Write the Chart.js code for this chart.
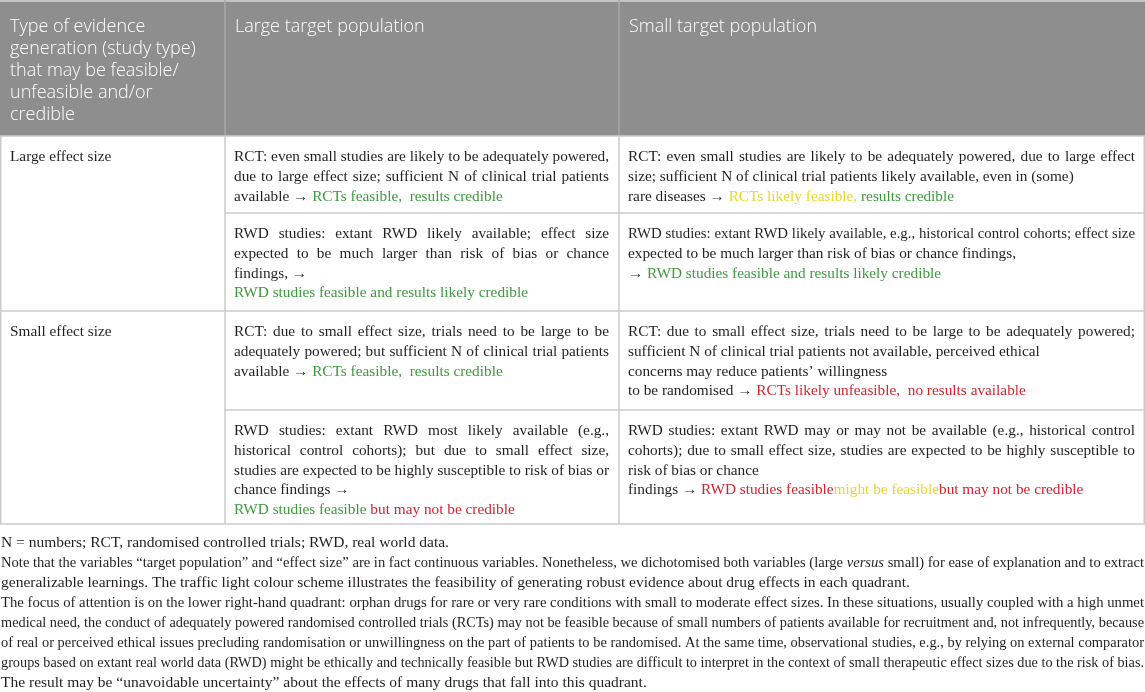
<!DOCTYPE html>
<html>
<head>
<meta charset="utf-8">
<script src="https://cdn.jsdelivr.net/npm/chart.js@4.4.1/dist/chart.umd.min.js"></script>
<style>
  html, body { margin: 0; padding: 0; background: #fff; }
  canvas { display: block; }
</style>
</head>
<body>
<canvas id="evidenceTable" width="1145" height="692"></canvas>
<script>
// Column headings
const headers = [
  ["Type of evidence", "generation (study type)", "that may be feasible/", "unfeasible and/or", "credible"],
  ["Large target population"],
  ["Small target population"],
];

// Row headings
const rowLabels = ["Large effect size", "Small effect size"];

// Cell text: each line is { t: [[text, colour, style]], j: justify }
// colour keys: k = body text, g = green, y = yellow, r = red
const largeEffectRct = [
  [
    { t: [["RCT: even small studies are likely to be adequately powered,"]], j: 1 },
    { t: [["due to large effect size; sufficient N of clinical trial patients"]], j: 1 },
    { t: [["available → "], ["RCTs feasible,  results credible", "g"]] },
  ],
  [
    { t: [["RCT: even small studies are likely to be adequately powered, due to large effect"]], j: 1 },
    { t: [["size; sufficient N of clinical trial patients likely available, even in (some)"]] },
    { t: [["rare diseases → "], ["RCTs likely feasible, ", "y"], ["results credible", "g"]] },
  ],
];
const largeEffectRwd = [
  [
    { t: [["RWD studies: extant RWD likely available; effect size"]], j: 1 },
    { t: [["expected to be much larger than risk of bias or chance"]], j: 1 },
    { t: [["findings, →"]] },
    { t: [["RWD studies feasible and results likely credible", "g"]] },
  ],
  [
    { t: [["RWD studies: extant RWD likely available, e.g., historical control cohorts; effect size"]], j: 1 },
    { t: [["expected to be much larger than risk of bias or chance findings,"]] },
    { t: [["→ "], ["RWD studies feasible and results likely credible", "g"]] },
  ],
];
const smallEffectRct = [
  [
    { t: [["RCT: due to small effect size, trials need to be large to be"]], j: 1 },
    { t: [["adequately powered; but sufficient N of clinical trial patients"]], j: 1 },
    { t: [["available → "], ["RCTs feasible,  results credible", "g"]] },
  ],
  [
    { t: [["RCT: due to small effect size, trials need to be large to be adequately powered;"]], j: 1 },
    { t: [["sufficient N of clinical trial patients not available, perceived ethical"]] },
    { t: [["concerns may reduce patients’ willingness"]] },
    { t: [["to be randomised → "], ["RCTs likely unfeasible,  no results available", "r"]] },
  ],
];
const smallEffectRwd = [
  [
    { t: [["RWD studies: extant RWD most likely available (e.g.,"]], j: 1 },
    { t: [["historical control cohorts); but due to small effect size,"]], j: 1 },
    { t: [["studies are expected to be highly susceptible to risk of bias or"]], j: 1 },
    { t: [["chance findings →"]] },
    { t: [["RWD studies feasible ", "g"], ["but may not be credible", "r"]] },
  ],
  [
    { t: [["RWD studies: extant RWD may or may not be available (e.g., historical control"]], j: 1 },
    { t: [["cohorts); due to small effect size, studies are expected to be highly susceptible to"]], j: 1 },
    { t: [["risk of bias or chance"]] },
    { t: [["findings → "], ["RWD studies feasible", "r"], ["might be feasible", "y"], ["but may not be credible", "r"]] },
  ],
];

// Footnotes below the table
const footnotes = [
  { t: [["N = numbers; RCT, randomised controlled trials; RWD, real world data."]] },
  { t: [["Note that the variables “target population” and “effect size” are in fact continuous variables. Nonetheless, we dichotomised both variables (large "], ["versus", "k", "i"], [" small) for ease of explanation and to extract"]], j: 1 },
  { t: [["generalizable learnings. The traffic light colour scheme illustrates the feasibility of generating robust evidence about drug effects in each quadrant."]] },
  { t: [["The focus of attention is on the lower right-hand quadrant: orphan drugs for rare or very rare conditions with small to moderate effect sizes. In these situations, usually coupled with a high unmet"]], j: 1 },
  { t: [["medical need, the conduct of adequately powered randomised controlled trials (RCTs) may not be feasible because of small numbers of patients available for recruitment and, not infrequently, because"]], j: 1 },
  { t: [["of real or perceived ethical issues precluding randomisation or unwillingness on the part of patients to be randomised. At the same time, observational studies, e.g., by relying on external comparator"]], j: 1 },
  { t: [["groups based on extant real world data (RWD) might be ethically and technically feasible but RWD studies are difficult to interpret in the context of small therapeutic effect sizes due to the risk of bias."]], j: 1 },
  { t: [["The result may be “unavoidable uncertainty” about the effects of many drugs that fall into this quadrant."]] },
];

// layout (in the page's own units, mapped through the hidden scales)
const colEdges = [0, 225, 619, 1145];
const headerBottom = 136;
const rowEdges = [136, 213, 311, 410, 524];
const footTop = 547;

const COLOURS = { k: "#231f20", g: "#3d9a3d", y: "#ecd62a", r: "#d3242e" };
const SERIF = "'Liberation Serif', 'Times New Roman', serif";
const SANS = "'Open Sans', 'Noto Sans', sans-serif";

function segFont(style, size) {
  return (style === "i" ? "italic " : "") + size + "px " + SERIF;
}

// draw one line of segments, justified or squeezed to fit the given width
function drawLine(ctx, line, x, y, width, size) {
  const segs = line.t.map((s) => ({ text: s[0], col: COLOURS[s[1] || "k"], font: segFont(s[2], size) }));
  let natural = 0;
  let spaces = 0;
  segs.forEach((s) => {
    ctx.font = s.font;
    s.w = ctx.measureText(s.text).width;
    natural += s.w;
    spaces += (s.text.match(/ /g) || []).length;
  });
  ctx.save();
  ctx.translate(x, y);
  let extra = 0;
  if (natural > width) {
    ctx.scale(width / natural, 1);
  } else if (line.j && spaces > 0) {
    extra = (width - natural) / spaces;
  }
  let cx = 0;
  segs.forEach((s) => {
    ctx.font = s.font;
    ctx.fillStyle = s.col;
    if (!extra) {
      ctx.fillText(s.text, cx, 0);
      cx += s.w;
      return;
    }
    s.text.split(/( )/).forEach((tok) => {
      if (tok === "") return;
      if (tok === " ") {
        cx += ctx.measureText(" ").width + extra;
      } else {
        ctx.fillText(tok, cx, 0);
        cx += ctx.measureText(tok).width;
      }
    });
  });
  ctx.restore();
}

const tablePlugin = {
  id: "evidenceTable",
  afterDraw(chart) {
    const ctx = chart.ctx;
    const xs = chart.scales.x;
    const ys = chart.scales.y;
    const X = (v) => xs.getPixelForValue(v);
    const Y = (v) => ys.getPixelForValue(v);
    const left = X(colEdges[0]);
    const right = X(colEdges[3]);

    ctx.save();
    ctx.textBaseline = "alphabetic";

    // header band
    ctx.fillStyle = "#8e8e8e";
    ctx.fillRect(left, Y(0), right - left, Y(headerBottom) - Y(0));
    ctx.fillStyle = "#c4c4c4";
    ctx.fillRect(left, Y(0), right - left, 2);
    ctx.strokeStyle = "#a9a9a9";
    ctx.lineWidth = 1.5;
    [1, 2].forEach((i) => {
      ctx.beginPath();
      ctx.moveTo(X(colEdges[i]), Y(0));
      ctx.lineTo(X(colEdges[i]), Y(headerBottom));
      ctx.stroke();
    });
    ctx.fillStyle = "#ffffff";
    ctx.font = "300 18px " + SANS;
    headers.forEach((lines, c) => {
      lines.forEach((txt, k) => {
        ctx.fillText(txt, X(colEdges[c]) + 10, Y(31.5 + k * 22.2));
      });
    });

    // grid lines of the body
    ctx.strokeStyle = "#cbcbcb";
    ctx.lineWidth = 1.5;
    const hline = (y, x0, x1) => {
      ctx.beginPath();
      ctx.moveTo(X(x0), Y(y));
      ctx.lineTo(X(x1), Y(y));
      ctx.stroke();
    };
    const vline = (x, y0, y1) => {
      ctx.beginPath();
      ctx.moveTo(X(x), Y(y0));
      ctx.lineTo(X(x), Y(y1));
      ctx.stroke();
    };
    hline(rowEdges[0], colEdges[0], colEdges[3]);
    hline(rowEdges[1], colEdges[1], colEdges[3]);
    hline(rowEdges[2], colEdges[0], colEdges[3]);
    hline(rowEdges[3], colEdges[1], colEdges[3]);
    hline(rowEdges[4], colEdges[0], colEdges[3]);
    vline(colEdges[0] + 0.75, rowEdges[0], rowEdges[4]);
    vline(colEdges[1], rowEdges[0], rowEdges[4]);
    vline(colEdges[2], rowEdges[0], rowEdges[4]);
    vline(colEdges[3] - 0.75, rowEdges[0], rowEdges[4]);

    // row headings
    ctx.font = "15.3px " + SERIF;
    ctx.fillStyle = COLOURS.k;
    rowLabels.forEach((lab, i) => {
      ctx.fillText(lab, X(colEdges[0]) + 10, Y(rowEdges[i * 2] + 25));
    });

    // body cells
    const blocks = [largeEffectRct, largeEffectRwd, smallEffectRct, smallEffectRwd];
    blocks.forEach((block, r) => {
      block.forEach((lines, c) => {
        const x0 = X(colEdges[c + 1]) + 9;
        const w = X(colEdges[c + 2]) - 10 - x0;
        lines.forEach((line, k) => {
          drawLine(ctx, line, x0, Y(rowEdges[r] + 25 + k * 19.8), w, 15.3);
        });
      });
    });

    // footnotes
    footnotes.forEach((line, k) => {
      drawLine(ctx, line, left + 1, Y(footTop + k * 20), right - left - 2, 15.5);
    });
    ctx.restore();
  },
};

new Chart(document.getElementById("evidenceTable"), {
  type: "scatter",
  data: { datasets: [{ data: [] }] },
  options: {
    responsive: false,
    animation: false,
    events: [],
    layout: { padding: 0 },
    plugins: { legend: { display: false }, tooltip: { enabled: false } },
    scales: {
      x: { type: "linear", min: 0, max: 1145, display: false },
      y: { type: "linear", min: 0, max: 692, reverse: true, display: false },
    },
  },
  plugins: [tablePlugin],
});
</script>
</body>
</html>
